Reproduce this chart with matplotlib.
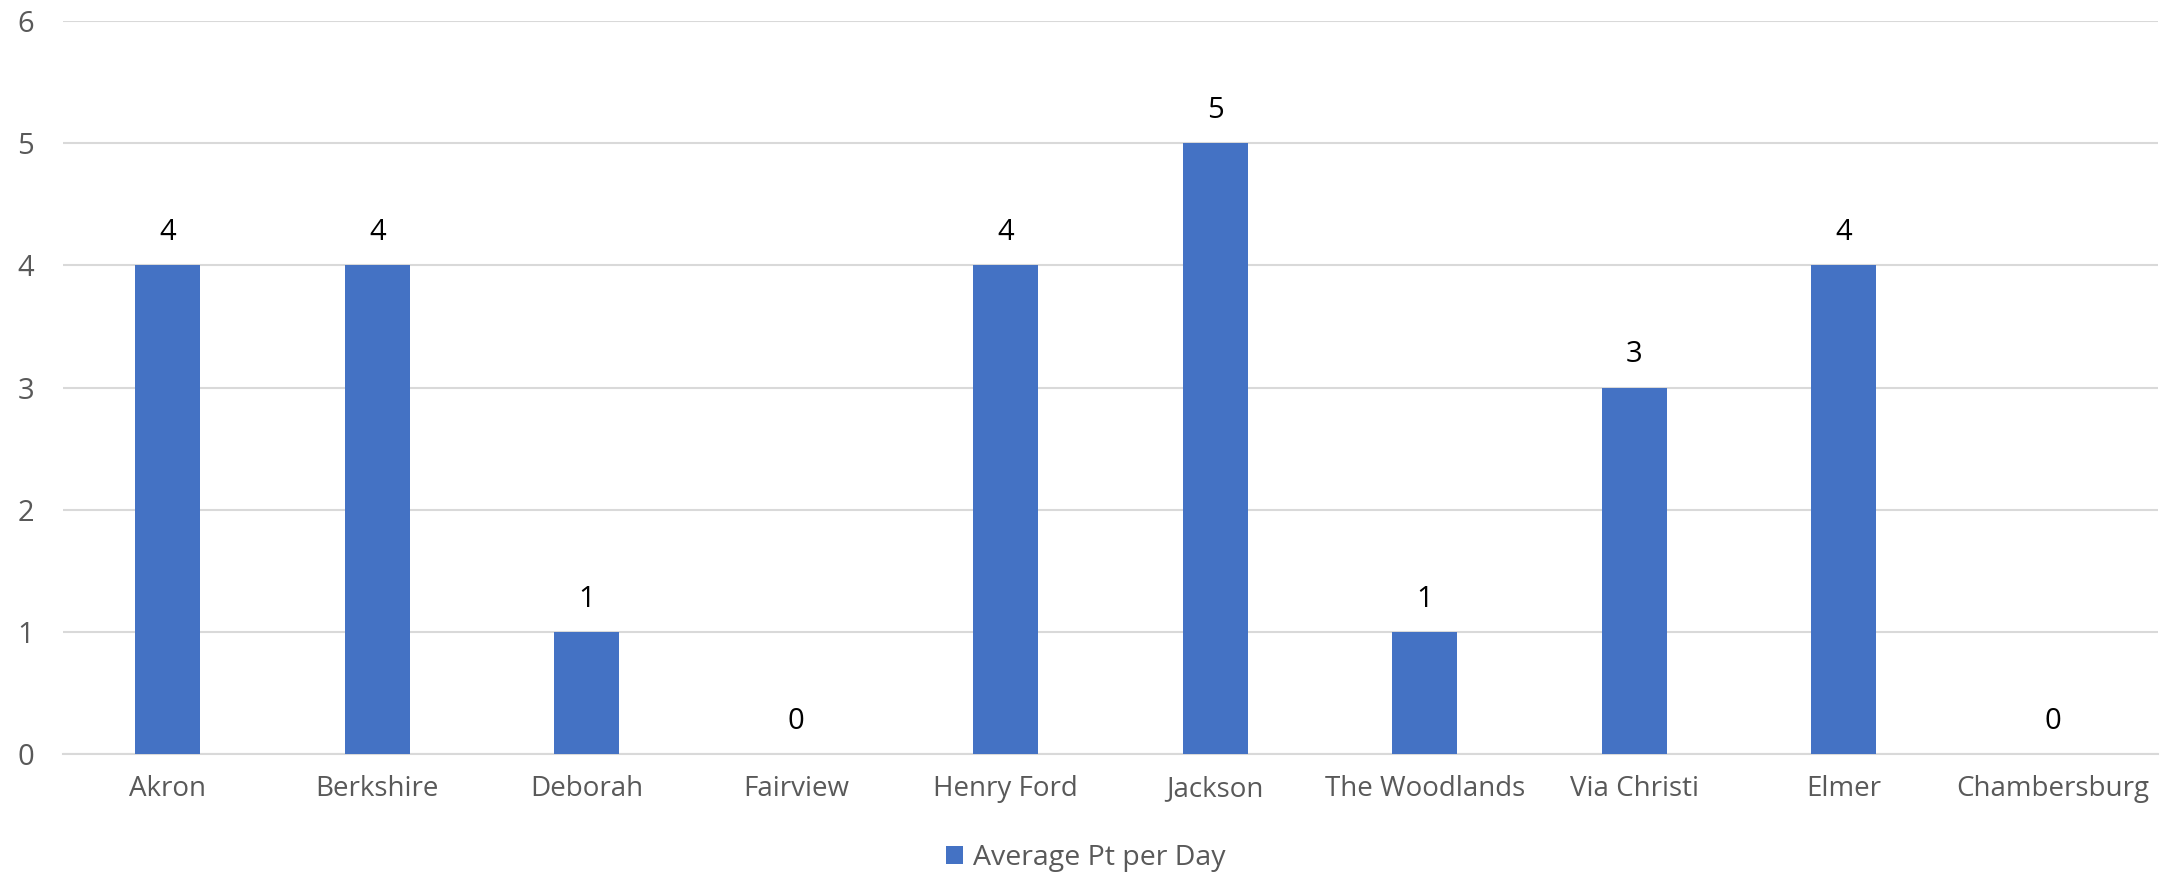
import matplotlib
matplotlib.use("Agg")
import matplotlib.pyplot as plt
import numpy as np

categories = ["Akron", "Berkshire", "Deborah", "Fairview", "Henry Ford", "Jackson",
              "The Woodlands", "Via Christi", "Elmer", "Chambersburg"]
values = [4, 4, 1, 0, 4, 5, 1, 3, 4, 0]
series_name = "Average Pt per Day"
yticks = [0, 1, 2, 3, 4, 5, 6]

plt.rcParams['font.family'] = ['Open Sans', 'DejaVu Sans']

fig = plt.figure(figsize=(21.72, 8.75), dpi=100)
ax = fig.add_axes([63/2172, 1-754/875, (2158-63)/2172, (754-21)/875])

x = np.arange(len(categories))
bars = ax.bar(x, values, width=0.31, color="#4472C4", label=series_name, zorder=3)

ax.set_xlim(-0.5, len(categories) - 0.5)
ax.set_ylim(0, 6)
ax.set_yticks(yticks)
ax.set_yticklabels([str(t) for t in yticks])
ax.set_xticks(x)
ax.set_xticklabels(categories)

ax.grid(axis='y', color="#D9D9D9", linewidth=1.5, zorder=0)
ax.set_axisbelow(True)
for s in ['top', 'right', 'left']:
    ax.spines[s].set_visible(False)
ax.spines['bottom'].set_color("#D9D9D9")
ax.spines['bottom'].set_linewidth(1.5)

ax.tick_params(axis='y', length=0, pad=21, labelsize=21, labelcolor="#595959")
ax.tick_params(axis='x', length=0, pad=15, labelsize=20, labelcolor="#595959")

for xi, v in zip(x, values):
    ax.annotate(str(v), (xi, v), xytext=(0, 13), textcoords='offset points',
                ha='center', va='bottom', fontsize=21, color="#000000")

leg = fig.legend(handles=[bars], labels=[series_name], loc='center',
                 bbox_to_anchor=(0.5, 1-858/875), frameon=False, fontsize=20.5,
                 handlelength=0.6, handleheight=0.6, handletextpad=0.35)
for t in leg.get_texts():
    t.set_color("#595959")

fig.savefig("out.png", dpi=100, facecolor="white")
